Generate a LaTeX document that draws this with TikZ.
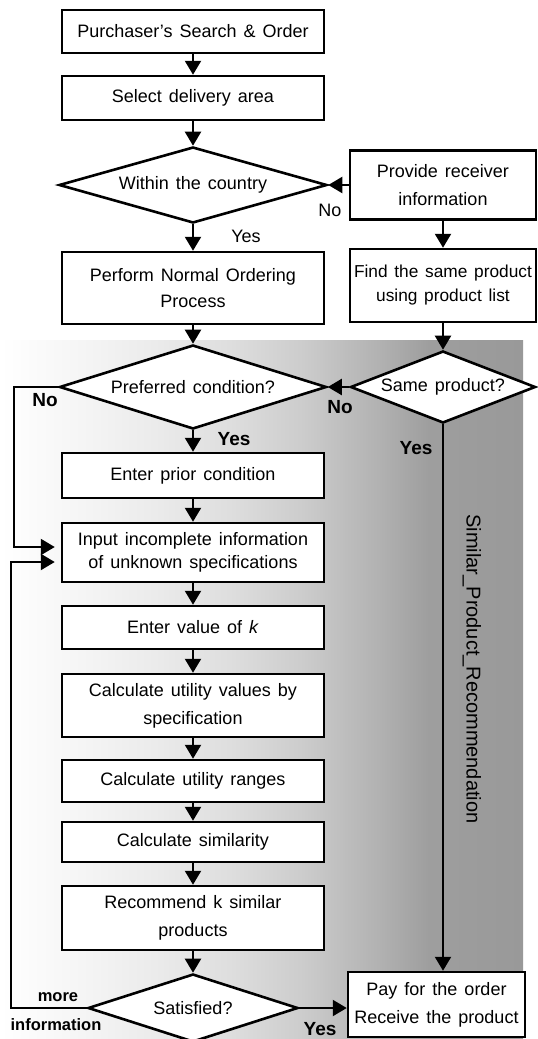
\documentclass[tikz,border=0pt]{standalone}
\usepackage{fontspec}
\setmainfont{Liberation Sans}[WordSpace=1.4]
\usetikzlibrary{shapes.geometric,arrows.meta}
\newcommand\mainfs{\fontsize{18}{26}\selectfont}
\newcommand\findfs{\fontsize{17.3}{24}\selectfont}
\newcommand\boldfs{\fontsize{19}{19}\selectfont\bfseries}
\newcommand\smallbfs{\fontsize{16.5}{16.5}\selectfont\bfseries}
\newcommand\vertfs{\fontsize{20}{20}\selectfont}
\pgfdeclarehorizontalshading{bgshade}{100bp}{color(0bp)=(white); color(25bp)=(white); color(33bp)=(white!96!black); color(40bp)=(white!92!black); color(47bp)=(white!87!black); color(54bp)=(white!80!black); color(61bp)=(white!70!black); color(66bp)=(white!62!black); color(75bp)=(white!60!black); color(100bp)=(white!60!black)}
\begin{document}
\begin{tikzpicture}[x=1pt,y=-1pt,
  box/.style={draw, line width=2.5pt, fill=white, rectangle, inner sep=0pt, align=center, font=\mainfs, minimum width=262pt},
  dia/.style={draw, diamond, line width=2.6pt, fill=white, inner sep=0pt, align=center, font=\mainfs},
  arr/.style={line width=2.2pt, -{Triangle[length=14pt,width=16pt]}},
  lab/.style={font=\mainfs, inner sep=0pt},
  blab/.style={font=\boldfs, inner sep=0pt},
  sblab/.style={font=\smallbfs, inner sep=0pt}]
\useasboundingbox (0,0) rectangle (538,1039);
\shade[shading=bgshade] (0,340) rectangle (523,1039);

% main column
\node[box, minimum height=43pt] (b1) at (193,31.5) {Purchaser’s Search \& Order};
\node[box, minimum height=44pt] (b2) at (193,98) {Select delivery area};
\node[dia, aspect=3.5, minimum width=268pt, minimum height=76pt] (d1) at (193,185) {Within the country};
\node[box, minimum height=72pt] (perf) at (193,288) {Perform Normal Ordering\\Process};
\node[dia, aspect=3.18, minimum width=267pt, minimum height=84pt] (d2) at (193,387) {Preferred condition?};
\node[box, minimum height=45pt] (prior) at (193,475.5) {Enter prior condition};
\node[box, minimum height=59pt] (input) at (193,552.5) {Input incomplete information\\[-3pt]of unknown specifications};
\node[box, minimum height=43pt] (kval) at (193,627.5) {Enter value of \textit{k}};
\node[box, minimum height=63pt] (util) at (193,705.5) {Calculate utility values by\\[2pt]specification};
\node[box, minimum height=42pt] (rng) at (193,781) {Calculate utility ranges};
\node[box, minimum height=40pt] (sim) at (193,842) {Calculate similarity};
\node[box, minimum height=64pt] (rec) at (193,918) {Recommend k similar\\[2pt]products};
\node[dia, aspect=3.09, minimum width=210pt, minimum height=68pt] (d4) at (193,1008) {Satisfied?};

% right column
\node[box, minimum width=186pt, minimum height=69pt] (prov) at (443,185) {Provide receiver\\[2pt]information};
\node[box, minimum width=186pt, minimum height=73pt, font=\findfs] (find) at (443,285.5) {Find the same product\\using product list};
\node[dia, aspect=2.57, minimum width=185pt, minimum height=72pt] (d3) at (443,387) {Same product?};
\node[box, minimum width=177pt, minimum height=65pt] (pay) at (436.5,1004.5) {Pay for the order\\[2pt]Receive the product};

% connectors
\draw[arr] (b1) -- (b2);
\draw[arr] (b2) -- (d1);
\draw[arr] (d1) -- (perf);
\draw[arr] (perf) -- (d2);
\draw[arr] (d2) -- (prior);
\draw[arr] (prior) -- (input);
\draw[arr] (input) -- (kval);
\draw[arr] (kval) -- (util);
\draw[arr] (util) -- (rng);
\draw[arr] (rng) -- (sim);
\draw[arr] (sim) -- (rec);
\draw[arr] (rec) -- (d4);
\draw[arr] (prov) -- (d1);
\draw[arr] (prov) -- (find);
\draw[arr] (find) -- (d3);
\draw[arr] (d3) -- (d2);
\draw[arr] (d3.south) -- (d3.south |- pay.north);
\draw[arr] (d4.east) -- (d4.east -| pay.west);
\coordinate (nl) at (14,387);
\coordinate (ml) at (11,1008);
\draw[arr, shorten >=6pt] (d2.west) -- (nl) |- ([yshift=5.5pt]input.west);
\draw[arr, shorten >=6pt] (d4.west) -- (ml) |- ([yshift=-9.5pt]input.west);

% labels
\node[lab] (no1) at (330,210) {No};
\node[lab] (yes1) at (246,236) {Yes};
\node[blab] (no2) at (45,400) {No};
\node[blab] (no3) at (340,407) {No};
\node[blab] (yes2) at (234,439) {Yes};
\node[blab] (yes3) at (416,448) {Yes};
\node[sblab] (more) at (58,997) {more};
\node[sblab] (info) at (56,1025) {information};
\node[blab] (yes4) at (320,1029) {Yes};
\node[font=\vertfs, inner sep=0pt, rotate=-90] (vt) at (472,669) {Similar\_Product\_Recommendation};
\end{tikzpicture}
\end{document}
